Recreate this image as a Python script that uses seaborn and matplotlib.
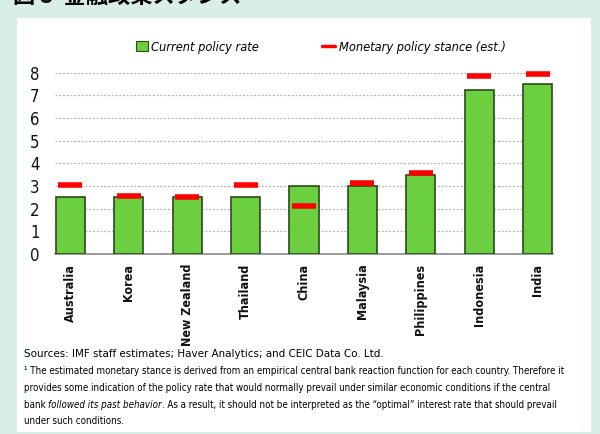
import matplotlib
matplotlib.use("Agg")
import matplotlib.pyplot as plt
import seaborn as sns
import pandas as pd
from matplotlib.patches import Rectangle
from matplotlib.lines import Line2D

countries = ["Australia", "Korea", "New Zealand", "Thailand", "China",
             "Malaysia", "Philippines", "Indonesia", "India"]
policy_rate = [2.5, 2.5, 2.5, 2.5, 3.0, 3.0, 3.5, 7.25, 7.5]
stance = [3.05, 2.56, 2.52, 3.05, 2.1, 3.13, 3.57, 7.85, 7.94]
yticks = [0, 1, 2, 3, 4, 5, 6, 7, 8]

sns.set_theme(style="white")
plt.rcParams["font.family"] = ["DejaVu Sans"]
plt.rcParams["font.stretch"] = "condensed"
plt.rcParams["text.color"] = "black"

df = pd.DataFrame({"country": countries, "rate": policy_rate, "stance": stance})

fig = plt.figure(figsize=(6.0, 4.34), dpi=100)
fig.patch.set_facecolor("#d9efe6")
fig.patches.append(Rectangle((17/600, 1-432/434), (591-17)/600, (432-18)/434,
                             transform=fig.transFigure, facecolor="white",
                             edgecolor="none", zorder=-5))

# clipped title at top
fig.text(13/600, 1-3/434, "図 3  金融政策スタンス", fontsize=16, fontweight="bold",
         family=["Noto Sans CJK JP", "DejaVu Sans"], va="baseline", ha="left")

ax = fig.add_axes([55/600, 1-254/434, 498/600, (254-68)/434])
ax.set_zorder(2)
ax.set_facecolor("none")
sns.barplot(data=df, x="country", y="rate", ax=ax, color="#6ccf40",
            width=0.5, edgecolor="#2a4a18", linewidth=1.2, saturation=1, zorder=3)
ax.plot(range(len(countries)), stance, linestyle="none", marker="_",
        markersize=17, markeredgewidth=4, color="#ff0000", zorder=4)

ax.set_xlim(-0.265, 8.265)
ax.set_ylim(0, 8.2)
ax.set_yticks(yticks)
ax.set_yticklabels([str(v) for v in yticks], fontsize=12)
ax.yaxis.grid(True, linestyle=(0, (1.5, 1.5)), color="#b4b4b4", linewidth=0.9, zorder=0)
ax.set_axisbelow(True)
ax.set_xlabel("")
ax.set_ylabel("")
ax.tick_params(axis="x", labelrotation=90, labelsize=9, length=0, pad=7, labelcolor="#111111")
ax.tick_params(axis="y", length=0, pad=11, labelcolor="#111111")
for lbl in ax.get_xticklabels():
    lbl.set_fontweight("bold")
for s in ["top", "right", "left"]:
    ax.spines[s].set_visible(False)
ax.spines["bottom"].set_color("#8a8a8a")
ax.spines["bottom"].set_linewidth(1.2)

legprops = {"style": "italic", "size": 9.2}
h1 = [Rectangle((0, 0), 1, 1, facecolor="#6ccf40", edgecolor="#2a4a18", linewidth=0.8)]
h2 = [Line2D([], [], color="#ff0000", linewidth=2.5)]
leg1 = fig.legend(h1, ["Current policy rate"], loc="center left",
                  bbox_to_anchor=(136/600, 1-47/434), frameon=False, prop=legprops,
                  borderpad=0, borderaxespad=0, handlelength=0.9, handleheight=0.9,
                  handletextpad=0.3)
leg2 = fig.legend(h2, ["Monetary policy stance (est.)"], loc="center left",
                  bbox_to_anchor=(322/600, 1-47/434), frameon=False, prop=legprops,
                  borderpad=0, borderaxespad=0, handlelength=1.0, handletextpad=0.3)

fs = 7.05
fig.text(24/600, 1-354/434, "Sources: IMF staff estimates; Haver Analytics; and CEIC Data Co. Ltd.",
         fontsize=8.25, va="center", ha="left")
foot = ["\u00b9 The estimated monetary stance is derived from an empirical central bank reaction function for each country. Therefore it",
        "provides some indication of the policy rate that would normally prevail under similar economic conditions if the central"]
ys = [371, 388]
for t, y in zip(foot, ys):
    fig.text(24/600, 1-y/434, t, fontsize=fs, va="center", ha="left")
y3 = 1-405/434
a = fig.text(24/600, y3, "bank ", fontsize=fs, va="center", ha="left")
fig.canvas.draw()
r = fig.canvas.get_renderer()
bb = a.get_window_extent(r)
b = fig.text(bb.x1/600, y3, "followed its past behavior", fontsize=fs, va="center",
             ha="left", style="italic")
bb2 = b.get_window_extent(r)
fig.text(bb2.x1/600, y3, ". As a result, it should not be interpreted as the \u201coptimal\u201d interest rate that should prevail",
         fontsize=fs, va="center", ha="left")
fig.text(24/600, 1-421/434, "under such conditions.", fontsize=fs, va="center", ha="left")

fig.savefig("out.png", dpi=100, facecolor=fig.get_facecolor())
